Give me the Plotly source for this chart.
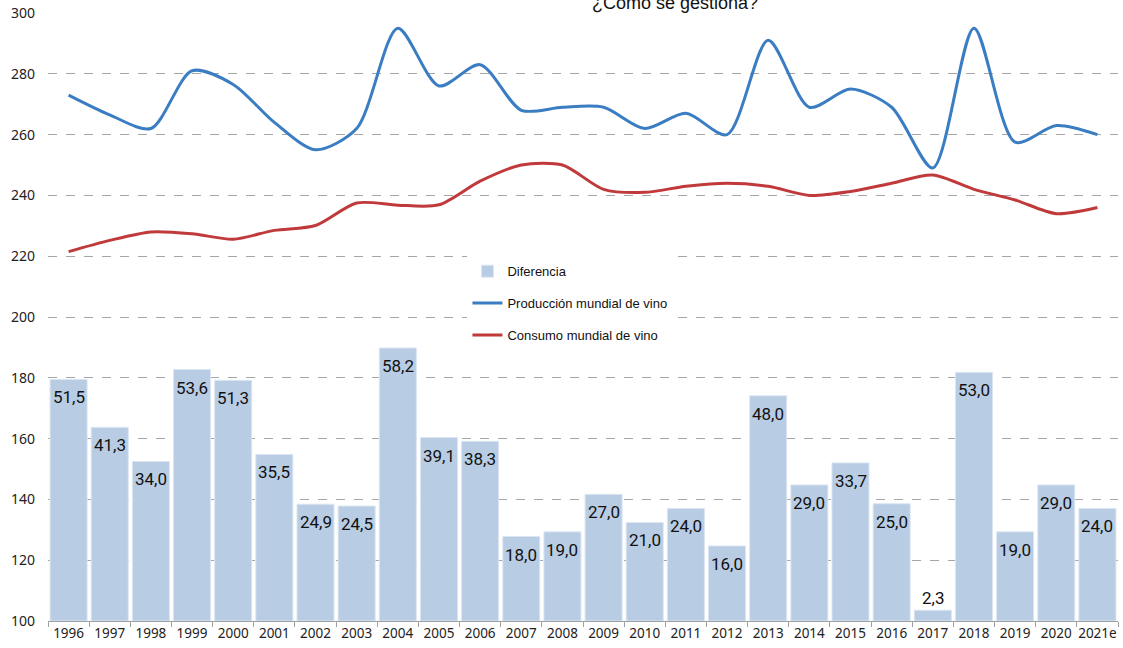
import plotly.graph_objects as go

years = ["1996","1997","1998","1999","2000","2001","2002","2003","2004","2005","2006","2007","2008",
         "2009","2010","2011","2012","2013","2014","2015","2016","2017","2018","2019","2020","2021e"]
produccion = [273, 266.5, 262, 281, 276.5, 264, 255, 262, 295, 276, 283, 268, 269,
              269, 262, 267, 260, 291, 269, 275, 269, 249, 295, 257.5, 263, 260]
consumo = [221.5, 225.2, 228, 227.4, 225.6, 228.5, 230.1, 237.5, 236.8, 236.9, 244.7, 250, 250,
           242, 241, 243, 244, 243, 240, 241.3, 244, 246.7, 242, 238.5, 234, 236]
diferencia = [51.5, 41.3, 34.0, 53.6, 51.3, 35.5, 24.9, 24.5, 58.2, 39.1, 38.3, 18.0, 19.0,
              27.0, 21.0, 24.0, 16.0, 48.0, 29.0, 33.7, 25.0, 2.3, 53.0, 19.0, 29.0, 24.0]

fig = go.Figure()
fig.add_trace(go.Bar(
    x=years, y=diferencia, name="Diferencia", yaxis="y2",
    marker=dict(color="#B8CCE4", line=dict(color="#DCE6F2", width=1)),
    legendgroup="a",
))
fig.add_trace(go.Scatter(
    x=years, y=produccion, name="Producción mundial de vino", mode="lines",
    line=dict(color="#3A7DC2", width=3, shape="spline", smoothing=0.8), legendgroup="b",
))
fig.add_trace(go.Scatter(
    x=years, y=consumo, name="Consumo mundial de vino", mode="lines",
    line=dict(color="#C0393B", width=3, shape="spline", smoothing=0.8), legendgroup="c",
))

label_font = dict(family="Roboto", size=17, color="#111111")
annotations = [dict(text="¿Cómo se gestiona?", xref="paper", yref="paper",
                    x=0.586, y=1, yanchor="middle", yshift=10, showarrow=False,
                    font=dict(family="Liberation Sans", size=18, color="#111111"))]
for i, v in enumerate(diferencia):
    inside = v > 8
    annotations.append(dict(
        x=i, y=v, xref="x", yref="y2", text=f"{v:.1f}".replace(".", ","),
        showarrow=False, font=label_font,
        yanchor="top" if inside else "bottom", yshift=-6 if inside else 0,
    ))

fig.update_layout(
    width=1123, height=648,
    margin=dict(l=48, r=5, t=13, b=27, autoexpand=False),
    paper_bgcolor="white", plot_bgcolor="white",
    separators=",.",
    bargap=0.1,
    font=dict(family="Noto Sans", size=14, color="#222222"),
    showlegend=True,
    legend=dict(x=0.392, y=0.6, xanchor="left", yanchor="top",
                bgcolor="white", font=dict(family="Liberation Sans", size=13, color="#111111"),
                tracegroupgap=12, itemwidth=30),
    xaxis=dict(type="category", categoryorder="array", categoryarray=years,
               range=[-0.5, len(years) - 0.5],
               showline=True, linecolor="#A0A0A0", linewidth=1,
               ticks="outside", tickson="boundaries", ticklen=5, tickcolor="#A0A0A0",
               showgrid=False, tickangle=0, automargin=False,
               tickfont=dict(size=13.5, color="#222222")),
    yaxis=dict(range=[100, 300], dtick=20, showgrid=True, gridcolor="#A6A6A6",
               griddash="dash", gridwidth=1, zeroline=False, showline=False,
               automargin=False,
               ticklabelstandoff=12, tickfont=dict(size=14, color="#222222")),
    yaxis2=dict(range=[0, 129.6], overlaying="y", side="right", visible=False,
                showgrid=False, automargin=False),
    annotations=annotations,
)
fig.write_html("out.html", config={"displayModeBar": False},
               post_script="document.body.style.margin='0px';")
